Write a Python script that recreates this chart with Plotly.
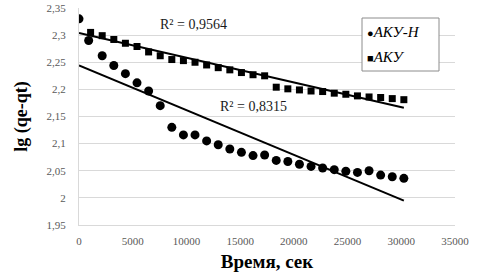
import plotly.graph_objects as go

# ---- data ----
time_aku_n = [0, 900, 2160, 3240, 4320, 5400, 6480, 7560, 8640, 9720, 10800, 11880,
              12960, 14040, 15120, 16200, 17280, 18360, 19440, 20520, 21600, 22680,
              23760, 24840, 25920, 27000, 28080, 29160, 30240]
lg_aku_n = [2.330, 2.290, 2.262, 2.244, 2.229, 2.212, 2.197, 2.170, 2.130, 2.116, 2.116, 2.105,
            2.098, 2.090, 2.084, 2.078, 2.079, 2.069, 2.067, 2.062, 2.058, 2.055,
            2.052, 2.049, 2.047, 2.050, 2.042, 2.039, 2.036]

time_aku = [1080, 2160, 3240, 4320, 5400, 6480, 7560, 8640, 9720, 10800, 11880, 12960,
            14040, 15120, 16200, 17280, 18360, 19440, 20520, 21600, 22680, 23760,
            24840, 25920, 27000, 28080, 29160, 30240]
lg_aku = [2.305, 2.299, 2.292, 2.285, 2.279, 2.269, 2.262, 2.255, 2.253, 2.250, 2.245, 2.240,
          2.236, 2.231, 2.227, 2.225, 2.204, 2.201, 2.199, 2.197, 2.196, 2.193,
          2.191, 2.188, 2.186, 2.185, 2.183, 2.181]

# linear trend lines (end points)
trend_x = [0, 30240]
trend_aku_n = [2.244, 1.995]
trend_aku = [2.304, 2.166]

r2_aku_n = "R² = 0,8315"
r2_aku = "R² = 0,9564"
series_names = ["АКУ-Н", "АКУ"]

x_ticks = [0, 5000, 10000, 15000, 20000, 25000, 30000, 35000]
x_tick_text = ["0", "5000", "10000", "15000", "20000", "25000", "30000", "35000"]
y_ticks = [1.95, 2.0, 2.05, 2.1, 2.15, 2.2, 2.25, 2.3, 2.35]
y_tick_text = ["1,95", "2", "2,05", "2,1", "2,15", "2,2", "2,25", "2,3", "2,35"]

FONT = "Liberation Serif"

fig = go.Figure()
fig.add_trace(go.Scatter(x=trend_x, y=trend_aku_n, mode="lines",
                         line=dict(color="black", width=2), showlegend=False, hoverinfo="skip"))
fig.add_trace(go.Scatter(x=trend_x, y=trend_aku, mode="lines",
                         line=dict(color="black", width=2), showlegend=False, hoverinfo="skip"))
fig.add_trace(go.Scatter(x=time_aku_n, y=lg_aku_n, mode="markers", name=series_names[0],
                         marker=dict(symbol="circle", size=9, color="black"), showlegend=False))
fig.add_trace(go.Scatter(x=time_aku, y=lg_aku, mode="markers", name=series_names[1],
                         marker=dict(symbol="square", size=7, color="black"), showlegend=False))

fig.add_annotation(x=10700, y=2.320, xref="x", yref="y", text=r2_aku, showarrow=False,
                   font=dict(family=FONT, size=14, color="#1a1a1a"))
fig.add_annotation(x=16250, y=2.168, xref="x", yref="y", text=r2_aku_n, showarrow=False,
                   font=dict(family=FONT, size=14, color="#1a1a1a"))

# legend box drawn as shape + annotations
fig.add_shape(type="rect", xref="paper", yref="paper",
              x0=(362 - 79) / 376, x1=(439 - 79) / 376,
              y0=(225 - 71) / 217, y1=(225 - 18) / 217,
              line=dict(color="#8c8c8c", width=1), fillcolor="white")
fig.add_annotation(xref="paper", yref="paper", x=(365 - 79) / 376, y=(225 - 32) / 217,
                   xanchor="left", yanchor="middle", showarrow=False,
                   text="<span style='font-size:11px'>●</span><i>" + series_names[0] + "</i>",
                   font=dict(family=FONT, size=15, color="black"))
fig.add_annotation(xref="paper", yref="paper", x=(365 - 79) / 376, y=(225 - 57) / 217,
                   xanchor="left", yanchor="middle", showarrow=False,
                   text="<span style='font-size:11px'>■</span><i>" + series_names[1] + "</i>",
                   font=dict(family=FONT, size=15, color="black"))

fig.update_layout(
    width=480, height=279,
    margin=dict(l=79, r=25, t=8, b=54),
    paper_bgcolor="white", plot_bgcolor="white",
    font=dict(family=FONT, color="#595959", size=11),
    showlegend=False,
    xaxis=dict(range=[0, 35000], tickvals=x_ticks, ticktext=x_tick_text, automargin=False,
               showgrid=False, zeroline=False, showline=True, linecolor="#d9d9d9", ticks="",
               ticklabelstandoff=6,
               title=dict(text="<b>Время, сек</b>", standoff=8,
                          font=dict(family=FONT, size=19, color="black"))),
    yaxis=dict(range=[1.95, 2.35], tickvals=y_ticks, ticktext=y_tick_text, automargin=False,
               showgrid=True, gridcolor="#d9d9d9", gridwidth=1,
               zeroline=False, showline=True, linecolor="#d9d9d9", ticks="",
               ticklabelstandoff=10,
               title=dict(text="<b>lg (qe-qt)</b>", standoff=14,
                          font=dict(family=FONT, size=18, color="black"))),
)
fig.write_html("out.html", config={"displayModeBar": False},
               post_script="document.body.style.margin='0';document.body.style.padding='0';")
